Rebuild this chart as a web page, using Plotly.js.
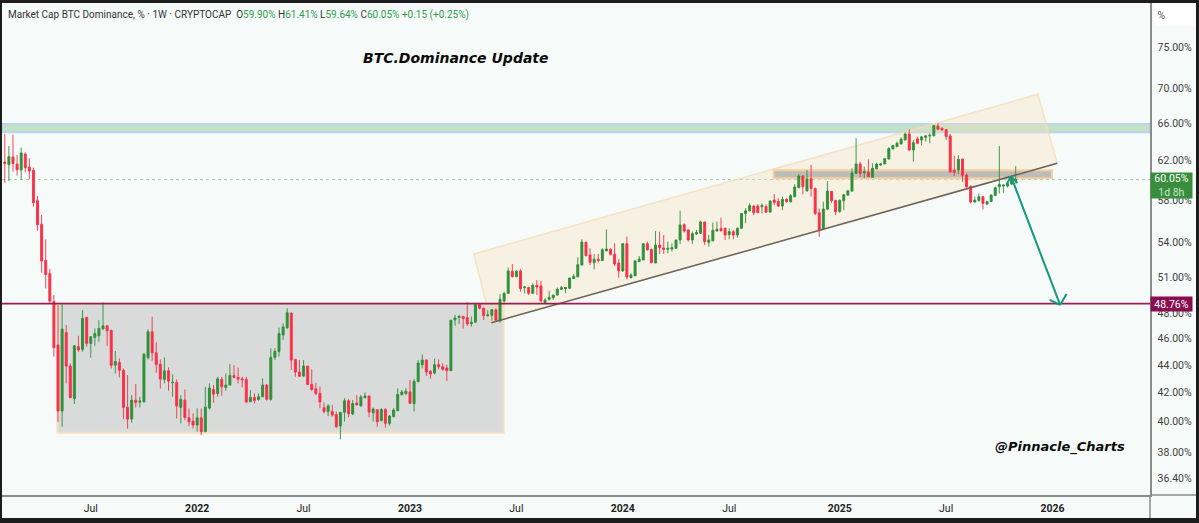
<!DOCTYPE html>
<html><head><meta charset="utf-8">
<script src="https://cdn.plot.ly/plotly-3.0.1.min.js"></script>
<style>html,body{margin:0;padding:0;background:#1d1d1d;overflow:hidden;width:1199px;height:523px}
#chart{position:absolute;left:2px;top:3px;width:1194px;height:515px}</style>
</head><body><div id="chart"></div>
<script>
var firstWeek = '2021-02-08';
var opens = [
61.84,61.56,62.36,61.63,61.01,62.67,61.32,60.98,57.95,55.7,
52.43,51.27,48.92,45.49,40.72,46.46,43.91,41.57,45.36,45.16,
47.65,45.61,46.07,46.2,46.72,46.98,46.61,43.98,44.18,43.59,
40.97,40.17,41.47,41.33,41.36,44.53,46.51,44.9,44.05,42.94,
43.56,42.7,42.74,40.97,41.47,40.26,40.03,39.77,40.26,39.33,
40.92,42.22,41.94,42.94,42.36,42.53,43.22,43.08,42.98,42.94,
41.36,41.66,41.52,41.71,42.53,41.53,44.56,44.99,46.26,46.83,
48.0,44.41,43.47,43.18,43.91,42.58,42.27,41.94,40.95,40.68,
40.68,40.49,39.71,40.63,41.43,40.51,41.27,41.07,41.64,41.76,
40.6,40.81,40.07,40.83,39.89,40.34,40.74,41.85,41.94,42.04,
41.23,42.77,44.01,44.36,43.52,43.4,44.01,43.86,43.77,43.57,
47.44,47.63,47.73,47.63,47.15,47.26,48.68,48.38,47.78,47.81,
48.25,47.36,48.98,49.61,51.48,51.02,51.51,50.09,50.09,49.61,
50.28,50.23,48.84,49.11,49.25,49.47,49.95,50.0,50.03,50.85,
51.0,52.03,54.04,52.91,52.23,52.53,52.41,53.27,53.41,52.97,
52.2,51.51,53.92,50.93,51.08,52.32,52.46,53.92,53.41,52.2,
53.8,53.53,53.41,53.44,53.5,54.26,55.67,55.17,54.26,54.8,
54.87,55.92,54.04,54.17,55.08,55.3,55.33,54.74,55.02,54.71,
55.33,56.71,56.97,57.43,57.43,57.36,57.39,56.85,58.01,57.88,
57.43,58.08,57.85,58.34,59.23,60.4,58.92,60.13,59.16,56.79,
55.28,57.14,58.86,57.98,56.92,57.95,58.5,58.89,60.67,61.63,
60.74,60.81,60.27,61.15,61.53,61.63,62.15,63.21,63.46,63.74,
64.17,64.82,63.1,64.28,64.17,64.46,64.6,64.64,65.69,65.44,
65.29,64.6,61.01,61.01,62.15,60.5,59.33,57.82,57.98,58.34,
57.62,57.88,58.47,59.33,59.39,59.39,59.59,59.9];
var highs = [
64.81,63.52,64.74,62.57,63.35,62.85,62.22,61.25,58.41,56.58,
54.31,51.69,49.47,48.65,48.7,47.04,44.11,45.49,46.2,48.24,
47.7,46.17,46.77,47.43,48.86,47.04,46.69,45.03,44.48,43.73,
43.25,41.82,42.6,41.71,44.85,46.69,47.7,45.69,44.4,44.55,
43.81,43.3,42.94,41.82,42.22,40.9,40.56,40.9,40.9,42.41,
42.65,42.53,43.13,43.13,43.37,44.05,43.98,43.81,43.13,43.13,
42.18,41.94,41.94,43.01,42.61,45.24,45.24,46.83,47.18,48.38,
48.02,44.41,44.36,44.36,43.91,43.67,42.7,42.42,41.3,41.2,
41.14,40.68,40.65,41.6,41.53,41.48,41.82,41.82,42.01,41.78,
40.96,40.83,40.91,40.91,40.45,40.91,42.3,42.18,42.3,42.89,
42.96,44.36,44.76,44.41,43.62,44.46,44.41,44.11,44.01,47.44,
47.84,47.84,47.76,48.87,47.71,48.71,48.71,48.44,48.22,48.3,
48.38,49.55,49.75,51.8,52.11,51.59,51.65,50.23,50.17,50.45,
50.73,50.67,49.19,49.83,49.47,50.11,50.23,50.14,50.93,51.25,
52.7,54.32,54.11,53.5,53.0,53.0,53.5,55.23,53.5,53.95,
52.55,53.95,54.56,51.31,52.46,52.82,53.95,54.11,53.44,55.08,
55.02,54.71,54.11,53.95,54.26,57.0,55.8,55.23,55.02,55.17,
56.04,55.95,54.71,55.86,55.95,56.33,55.39,55.33,55.17,55.39,
56.74,57.23,57.71,57.52,57.62,57.69,57.59,58.01,58.6,58.18,
58.34,58.18,58.6,59.59,60.57,60.5,61.01,61.53,59.23,57.2,
57.85,59.9,58.89,58.01,58.08,58.6,58.99,61.19,64.35,61.87,
61.36,62.11,61.7,61.77,61.7,62.25,63.39,63.64,63.99,64.46,
64.96,65.33,64.17,64.53,64.6,64.71,64.89,65.8,65.98,65.55,
65.37,64.82,62.5,62.57,62.18,60.67,59.49,58.34,58.66,58.4,
57.91,58.57,59.33,63.53,59.56,59.83,60.4,61.41];
var lows = [
59.73,59.9,60.84,60.44,60.0,60.77,60.07,57.37,55.11,51.35,
50.02,48.78,44.6,39.99,39.66,42.65,41.64,41.2,44.98,44.98,
45.36,44.53,45.43,45.74,46.72,45.41,43.73,43.37,43.08,40.17,
39.53,39.92,40.97,40.97,41.29,44.4,44.3,43.42,42.29,42.65,
42.13,41.71,40.21,39.88,40.1,39.7,39.55,39.33,39.11,39.33,
40.83,41.29,41.71,41.78,42.13,42.53,43.01,42.65,42.36,41.33,
41.36,41.24,41.43,41.66,41.43,41.43,44.36,44.61,45.88,46.73,
43.62,43.13,43.13,43.13,42.53,42.12,41.82,40.91,40.56,40.38,
40.34,39.6,38.83,40.0,40.29,40.45,41.09,41.02,41.6,40.29,
40.0,39.66,40.02,39.6,39.73,40.29,40.74,41.8,41.82,41.2,
40.68,42.77,43.74,43.18,42.99,43.3,43.67,43.57,42.82,43.57,
46.97,47.12,46.76,46.97,46.92,47.26,48.3,47.44,47.71,47.39,
47.31,47.23,48.84,49.55,50.93,50.96,49.75,49.61,49.47,49.55,
49.47,48.87,48.79,49.0,49.05,49.41,49.89,49.61,50.0,50.82,
50.96,51.97,52.79,52.03,51.65,52.23,52.41,53.27,52.85,51.94,
50.93,51.45,50.79,50.87,51.08,52.29,52.46,53.29,52.17,52.2,
53.0,53.0,53.06,53.21,53.44,53.89,54.93,54.11,53.89,54.71,
54.8,53.8,53.65,54.17,55.02,55.02,54.26,54.32,54.32,54.47,
55.33,55.8,56.9,56.57,56.73,56.73,56.79,56.82,57.52,57.36,
57.04,57.78,57.78,58.27,59.23,58.57,58.83,58.34,56.57,54.54,
55.22,57.04,57.75,56.57,56.79,57.04,58.4,58.83,60.67,60.27,
60.17,60.27,60.27,61.08,61.43,61.63,62.11,63.18,63.39,63.71,
64.1,63.03,61.87,63.71,63.57,63.99,63.81,64.53,65.26,65.15,
64.17,60.74,60.4,60.6,59.83,59.16,57.69,57.75,57.85,57.11,
57.52,57.85,58.4,58.66,58.73,59.26,59.49,59.64];
var closes = [
61.67,62.39,61.67,61.04,62.78,61.25,60.91,57.76,55.67,52.37,
51.21,48.97,45.28,40.72,46.72,43.91,41.64,45.43,45.11,47.57,
45.61,46.12,46.38,46.77,46.98,46.59,43.96,44.25,43.61,40.97,
40.17,41.47,41.31,41.4,44.8,46.51,44.9,44.03,42.96,43.56,
42.82,42.74,41.06,41.52,40.28,39.99,39.77,40.26,39.33,40.99,
42.32,41.89,42.98,42.41,42.53,43.22,43.08,42.96,42.91,41.33,
41.66,41.45,41.71,42.53,41.53,44.56,45.01,46.37,46.89,48.02,
44.36,43.47,43.16,43.91,42.58,42.22,41.94,41.34,40.68,41.07,
40.45,39.66,40.63,41.43,40.54,41.23,41.14,41.69,41.76,40.65,
40.85,40.0,40.83,39.89,40.38,40.79,41.87,42.04,42.09,41.25,
42.8,44.13,44.36,43.47,43.33,44.01,43.86,43.67,43.57,47.42,
47.6,47.73,47.55,47.12,47.26,48.68,48.38,47.78,47.84,48.27,
47.42,49.11,49.61,51.51,51.02,51.48,50.0,50.14,49.61,50.28,
50.14,48.98,49.05,49.28,49.47,49.95,50.09,50.09,50.9,51.05,
52.05,54.07,52.85,52.26,52.53,52.41,53.38,53.44,52.97,52.11,
51.51,53.92,50.99,51.16,52.38,52.55,53.92,53.38,52.23,53.8,
53.56,53.41,53.5,53.56,54.26,55.64,55.08,54.26,54.83,54.93,
55.92,54.11,54.26,55.14,55.23,55.11,54.71,55.02,54.71,55.33,
56.71,56.97,57.47,56.79,56.82,57.49,56.85,57.91,57.78,57.43,
58.08,57.85,58.44,59.29,60.4,59.33,60.1,59.16,56.73,55.22,
57.14,58.89,57.95,56.89,57.98,58.53,58.92,60.7,61.63,60.67,
60.84,60.33,61.19,61.63,61.63,62.18,63.25,63.57,63.81,64.24,
64.82,63.1,63.88,63.81,64.5,64.6,64.67,65.73,65.33,65.26,
64.53,60.81,60.77,62.11,60.47,59.33,57.82,58.01,58.34,57.69,
57.88,58.5,59.23,59.56,59.49,59.63,60.07,60.05];

var yTickValues = [75,70,66,62,58,54,51,48,46,44,42,40,38,36.4];
var xTickDates = ['2021-07-05','2022-01-03','2022-07-04','2023-01-02','2023-07-03','2024-01-01','2024-07-01','2025-01-06','2025-07-07','2026-01-05'];
var xTickLabels = ['Jul','<b>2022</b>','Jul','<b>2023</b>','Jul','<b>2024</b>','Jul','<b>2025</b>','Jul','<b>2026</b>'];

var supportLevel = 48.76, lastClose = 60.05;
var band = {low:65.0, high:65.9};
var baseBox = {x0:'2021-05-09', x1:'2023-06-11', low:39.26, high:48.76};
var midBox = {x0:'2024-09-15', x1:'2026-01-04', low:60.17, high:60.98};
var channel = {tl:['2023-04-21',53.0], tr:['2025-12-11',69.28], br:['2026-01-13',61.7], bl:['2023-05-21',47.22]};
var arrow = {top:['2025-10-26',60.37], topL:['2025-10-18',59.53], topR:['2025-11-06',59.7],
             bot:['2026-01-18',48.65], botL:['2025-12-31',49.06], botR:['2026-01-29',49.55]};

var GREEN='#2f8f3a', RED='#f92f47', BG='#f6fbf9', AXIS='#8b8b8b', TXT='#3f3f3f';
var UI='Roboto, sans-serif', BI='"DejaVu Sans", sans-serif';

var dates = opens.map(function(_,i){
  return new Date(Date.parse(firstWeek+'T00:00:00Z')+i*7*864e5).toISOString().slice(0,10);
});

function seg(a,b,color,w,layer){return {type:'line',xref:'x',yref:'y',x0:a[0],y0:a[1],x1:b[0],y1:b[1],layer:layer||'above',line:{color:color,width:w}};}
function hband(lo,hi,fill,lcolor,w){return {type:'rect',xref:'paper',yref:'y',x0:0,x1:1,y0:lo,y1:hi,layer:'below',fillcolor:fill,line:{color:lcolor,width:w}};}

var shapes = [
 {type:'rect',xref:'x',yref:'y',x0:baseBox.x0,x1:baseBox.x1,y0:baseBox.low,y1:baseBox.high,layer:'below',fillcolor:'#d8dbda',line:{color:'#f6dfc0',width:2}},
 hband(band.low,band.high,'#c1e3c4','#b9d3f2',2),
 {type:'line',xref:'paper',yref:'y',x0:0,x1:1,y0:lastClose,y1:lastClose,layer:'below',line:{color:'#9ed4a2',width:1,dash:'dot'}},
 {type:'path',xref:'x',yref:'y',layer:'below',fillcolor:'rgba(245,222,185,0.34)',line:{color:'rgba(245,220,185,0.8)',width:1.5},
  path:'M'+channel.tl.join(',')+' L'+channel.tr.join(',')+' L'+channel.br.join(',')+' L'+channel.bl.join(',')+' Z'},
 {type:'rect',xref:'x',yref:'y',x0:midBox.x0,x1:midBox.x1,y0:midBox.low,y1:midBox.high,layer:'below',fillcolor:'#bcbcb8',line:{color:'#f6cf9f',width:2}},
 seg(channel.bl,channel.br,'#6a6158',1.5),
 {type:'line',xref:'paper',yref:'y',x0:0,x1:1,y0:supportLevel,y1:supportLevel,layer:'above',line:{color:'#9a1d55',width:1.6}},
 seg(arrow.top,arrow.bot,'#12997f',2),
 seg(arrow.top,arrow.topL,'#12997f',2), seg(arrow.top,arrow.topR,'#12997f',2),
 seg(arrow.bot,arrow.botL,'#12997f',2), seg(arrow.bot,arrow.botR,'#12997f',2),
 {type:'line',xref:'paper',yref:'paper',x0:1,x1:1,y0:0,y1:-0.05,line:{color:AXIS,width:1.5}},
 {type:'line',xref:'paper',yref:'paper',x0:1,x1:1.04,y0:0,y1:0,line:{color:AXIS,width:1.5}}
];

function pct(v){return v.toFixed(2)+'%';}
var g=function(s){return '<span style="color:#2f9e4f">'+s+'</span>';};
var headerText='Market Cap BTC Dominance, % · 1W · CRYPTOCAP  O'+g('59.90%')+' H'+g('61.41%')+' L'+g('59.64%')+' C'+g('60.05%')+' '+g('+0.15 (+0.25%)');

var annotations = [
 {xref:'paper',yref:'paper',x:0.0035,y:0.9755,xanchor:'left',yanchor:'middle',showarrow:false,text:headerText,font:{family:UI,size:10,color:'#333'}},
 {xref:'paper',yref:'paper',x:0.3956,y:0.8885,xanchor:'center',yanchor:'middle',showarrow:false,text:'<b><i>BTC.Dominance Update</i></b>',font:{family:BI,size:14,color:'#0a0a0a'}},
 {xref:'paper',yref:'paper',x:0.9216,y:0.0976,xanchor:'center',yanchor:'middle',showarrow:false,text:'<b><i>@Pinnacle_Charts</i></b>',font:{family:BI,size:13,color:'#0a0a0a'}},
 {xref:'paper',yref:'y',x:1,y:Math.log10(lastClose)-0.0047,xanchor:'left',yanchor:'middle',showarrow:false,align:'center',width:41,height:25,bgcolor:'#388e3c',borderpad:0,
  text:pct(lastClose)+'<br><span style="color:#c9e5cb">1d 8h</span>',font:{family:UI,size:10.5,color:'#fff'}},
 {xref:'paper',yref:'y',x:1,y:Math.log10(supportLevel),xanchor:'left',yanchor:'middle',showarrow:false,align:'center',width:41,height:14,bgcolor:'#880e4f',borderpad:0,
  text:pct(supportLevel),font:{family:UI,size:10.5,color:'#fff'}},
 {xref:'paper',yref:'paper',x:1.0035,y:0.9755,xanchor:'left',yanchor:'middle',showarrow:false,align:'left',width:39,height:20,bgcolor:'#ffffff',borderpad:0,
  text:' %',font:{family:UI,size:10.5,color:'#555'}}
];

var trace = {type:'candlestick',x:dates,open:opens,high:highs,low:lows,close:closes,
  width:4.2*864e5,whiskerwidth:0,hoverinfo:'skip',showlegend:false,
  increasing:{line:{color:GREEN,width:0.9},fillcolor:GREEN},
  decreasing:{line:{color:RED,width:0.9},fillcolor:RED}};

var layout = {
  width:1194,height:515,paper_bgcolor:BG,plot_bgcolor:BG,showlegend:false,dragmode:false,
  margin:{l:0,r:46,t:0,b:23,pad:0},
  xaxis:{type:'date',range:['2021-02-03 05:00','2026-06-20 17:00'],tickmode:'array',tickvals:xTickDates,ticktext:xTickLabels,
    showgrid:false,zeroline:false,showline:true,linecolor:AXIS,linewidth:1.5,ticks:'',tickangle:0,ticklabelstandoff:3,tickfont:{family:UI,size:10.5,color:'#222'},rangeslider:{visible:false},fixedrange:true},
  yaxis:{type:'log',side:'right',range:[1.54861,1.90712],tickmode:'array',tickvals:yTickValues,ticktext:yTickValues.map(pct),
    showgrid:false,zeroline:false,showline:true,linecolor:AXIS,linewidth:1.5,ticks:'',ticklabelstandoff:4,tickfont:{family:UI,size:10.5,color:TXT},fixedrange:true},
  shapes:shapes,annotations:annotations
};
Plotly.newPlot('chart',[trace],layout,{displayModeBar:false,staticPlot:true});
</script></body></html>
